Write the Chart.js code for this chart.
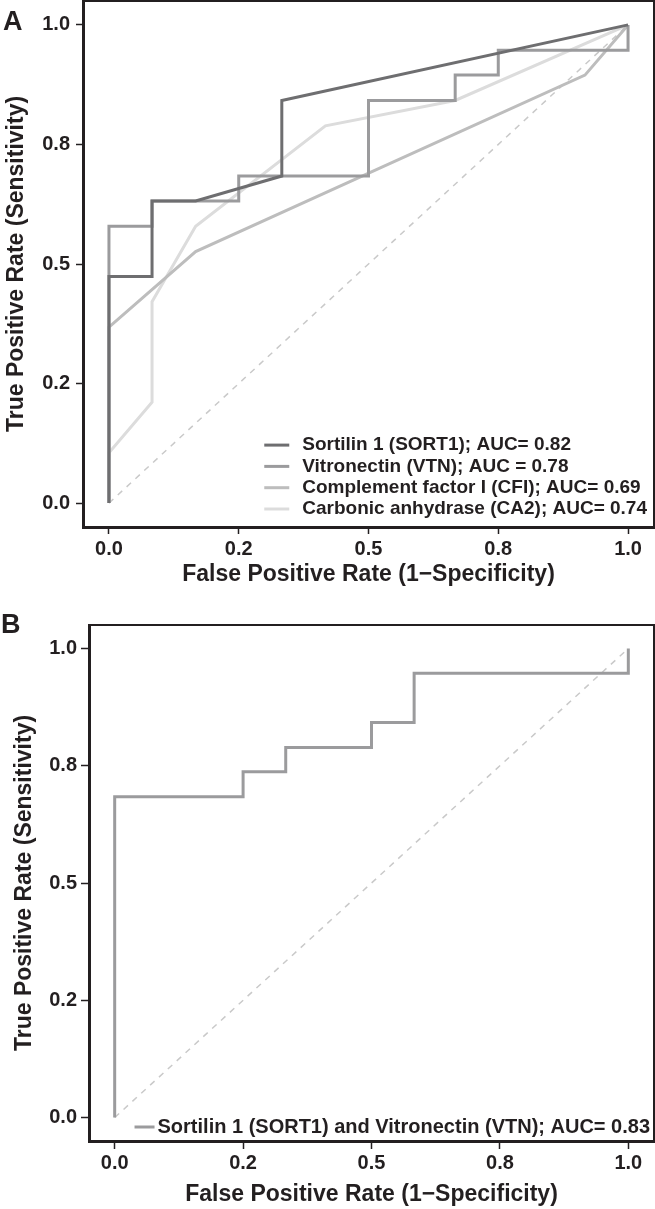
<!DOCTYPE html>
<html>
<head>
<meta charset="utf-8">
<script src="https://cdn.jsdelivr.net/npm/chart.js@4"></script>
<style>
  body { margin: 0; background: #fff; }
  #page { position: relative; width: 655px; height: 1209px; }
  .wrap { position: absolute; left: 0; }
  .panel { position: absolute; font: bold 27px "Liberation Sans", Arial, sans-serif; line-height: 1; color: #231f20; }
</style>
</head>
<body>
<div id="page">
  <div class="wrap" style="top:0"><canvas id="chartA" width="655" height="600"></canvas></div>
  <div class="wrap" style="top:600px"><canvas id="chartB" width="655" height="609"></canvas></div>
  <div class="panel" style="left:3px;top:8px">A</div>
  <div class="panel" style="left:1px;top:611px">B</div>
</div>
<script>
// axis ticks (labels rounded like the original figure)
const tickValues = [0, 0.25, 0.5, 0.75, 1];
const tickLabels = ["0.0", "0.2", "0.5", "0.8", "1.0"];

// panel A - single markers
const sort1Fpr = [0, 0, 0.083, 0.083, 0.167, 0.333, 0.333, 1];
const sort1Tpr = [0, 0.474, 0.474, 0.632, 0.632, 0.684, 0.842, 1];

const vtnFpr = [0, 0, 0.083, 0.083, 0.25, 0.25, 0.5, 0.5, 0.667, 0.667, 0.75, 0.75, 1, 1];
const vtnTpr = [0, 0.579, 0.579, 0.632, 0.632, 0.684, 0.684, 0.842, 0.842, 0.895, 0.895, 0.947, 0.947, 1];

const cfiFpr = [0, 0, 0.167, 0.917, 1];
const cfiTpr = [0, 0.368, 0.526, 0.895, 1];

const ca2Fpr = [0, 0, 0.083, 0.083, 0.167, 0.417, 0.667, 1];
const ca2Tpr = [0, 0.105, 0.211, 0.421, 0.579, 0.789, 0.842, 1];

const labelsA = [
  "Sortilin 1 (SORT1); AUC= 0.82",
  "Vitronectin (VTN); AUC = 0.78",
  "Complement factor I (CFI); AUC= 0.69",
  "Carbonic anhydrase (CA2); AUC= 0.74"
];

// panel B - combined marker
const comboFpr = [0, 0, 0.25, 0.25, 0.333, 0.333, 0.5, 0.5, 0.583, 0.583, 1, 1];
const comboTpr = [0, 0.684, 0.684, 0.737, 0.737, 0.789, 0.789, 0.842, 0.842, 0.947, 0.947, 1];
const labelB = "Sortilin 1 (SORT1) and Vitronectin (VTN); AUC= 0.83";

// chance line
const refFpr = [0, 1];
const refTpr = [0, 1];

const INK = "#231f20";
const FONT = "Liberation Sans";

function pts(xs, ys) {
  return xs.map((x, i) => ({ x: x, y: ys[i] }));
}

function rocLine(label, xs, ys, color) {
  return {
    label: label,
    data: pts(xs, ys),
    showLine: true,
    borderColor: color,
    backgroundColor: color,
    borderWidth: 3,
    pointRadius: 0,
    tension: 0,
    borderJoinStyle: "miter",
    borderCapStyle: "butt"
  };
}

function refLine() {
  return {
    label: "",
    data: pts(refFpr, refTpr),
    showLine: true,
    borderColor: "#c9c9c9",
    borderWidth: 1.5,
    borderDash: [6, 6],
    pointRadius: 0
  };
}

// legend drawn inside the plot, bottom right
const insideLegend = {
  id: "insideLegend",
  afterDatasetsDraw(chart, args, o) {
    const { ctx, chartArea } = chart;
    const items = chart.data.datasets.filter(d => d.label);
    ctx.save();
    ctx.font = "bold " + o.fontSize + "px '" + FONT + "', Arial, sans-serif";
    const maxW = Math.max(...items.map(d => ctx.measureText(d.label).width));
    const textX = chartArea.right - o.right - maxW;
    const x1 = textX - o.gap;
    const x0 = x1 - o.lineLen;
    items.forEach((d, i) => {
      const y = chartArea.bottom - o.bottom - (items.length - 1 - i) * o.rowH;
      ctx.strokeStyle = d.borderColor;
      ctx.lineWidth = 3;
      ctx.beginPath();
      ctx.moveTo(x0, y);
      ctx.lineTo(x1, y);
      ctx.stroke();
      ctx.fillStyle = INK;
      ctx.textAlign = "left";
      ctx.textBaseline = "middle";
      ctx.fillText(d.label, textX, y);
    });
    ctx.restore();
  }
};

// thin top and right frame lines
const frame = {
  id: "frame",
  afterDraw(chart) {
    const { ctx, chartArea } = chart;
    ctx.save();
    ctx.strokeStyle = INK;
    ctx.lineWidth = 2;
    ctx.beginPath();
    ctx.moveTo(chartArea.left, chartArea.top);
    ctx.lineTo(chartArea.right, chartArea.top);
    ctx.lineTo(chartArea.right, chartArea.bottom);
    ctx.stroke();
    ctx.restore();
  }
};

function axes(p) {
  return {
    x: {
      type: "linear",
      min: -0.05,
      max: 1.05,
      afterBuildTicks: s => { s.ticks = tickValues.map(v => ({ value: v })); },
      afterFit: s => { s.height = p.xHeight; s.paddingLeft = 0; s.paddingRight = 0; },
      ticks: {
        autoSkip: false,
        maxRotation: 0,
        padding: p.xPad,
        color: INK,
        font: { family: FONT, size: 20, weight: "bold" },
        callback: (v, i) => tickLabels[i]
      },
      grid: { drawOnChartArea: false, tickLength: p.tickLen, tickWidth: 1.5, tickColor: INK },
      border: { display: true, width: 3, color: INK },
      title: {
        display: true,
        text: "False Positive Rate (1\u2212Specificity)",
        color: INK,
        font: { family: FONT, size: 23, weight: "bold" },
        padding: { top: 0, bottom: p.xTitlePad }
      }
    },
    y: {
      type: "linear",
      min: -0.05,
      max: 1.05,
      afterBuildTicks: s => { s.ticks = tickValues.map(v => ({ value: v })); },
      afterFit: s => { s.width = p.yWidth; s.paddingTop = 0; s.paddingBottom = 0; },
      ticks: {
        autoSkip: false,
        padding: p.yPad,
        color: INK,
        font: { family: FONT, size: 20, weight: "bold" },
        callback: (v, i) => tickLabels[i]
      },
      grid: { drawOnChartArea: false, tickLength: p.tickLen, tickWidth: 1.5, tickColor: INK },
      border: { display: true, width: 3, color: INK },
      title: {
        display: true,
        text: "True Positive Rate (Sensitivity)",
        color: INK,
        font: { family: FONT, size: 23, weight: "bold" },
        padding: { top: p.yTitlePad, bottom: 0 }
      }
    }
  };
}

new Chart(document.getElementById("chartA"), {
  type: "scatter",
  data: {
    datasets: [
      rocLine(labelsA[0], sort1Fpr, sort1Tpr, "#6e6e70"),
      rocLine(labelsA[1], vtnFpr, vtnTpr, "#9b9b9d"),
      rocLine(labelsA[2], cfiFpr, cfiTpr, "#bdbdbd"),
      rocLine(labelsA[3], ca2Fpr, ca2Tpr, "#dcdcdc"),
      refLine()
    ]
  },
  options: {
    responsive: false,
    animation: false,
    layout: { padding: { top: 1, right: 1, bottom: 0, left: 0 } },
    scales: axes({ xHeight: 73, yWidth: 83, xPad: 3, yPad: 6, tickLen: 7, xTitlePad: 12, yTitlePad: 3 }),
    plugins: {
      legend: { display: false },
      tooltip: { enabled: false },
      insideLegend: { fontSize: 19, right: 7, gap: 13, lineLen: 25, bottom: 18, rowH: 21.3 }
    }
  },
  plugins: [insideLegend, frame]
});

new Chart(document.getElementById("chartB"), {
  type: "scatter",
  data: {
    datasets: [
      rocLine(labelB, comboFpr, comboTpr, "#9b9b9d"),
      refLine()
    ]
  },
  options: {
    responsive: false,
    animation: false,
    layout: { padding: { top: 25, right: 1, bottom: 0, left: 0 } },
    scales: axes({ xHeight: 68, yWidth: 89, xPad: 2, yPad: 4, tickLen: 8, xTitlePad: 1, yTitlePad: 11 }),
    plugins: {
      legend: { display: false },
      tooltip: { enabled: false },
      insideLegend: { fontSize: 20, right: 4, gap: 3, lineLen: 20, bottom: 14, rowH: 21 }
    }
  },
  plugins: [insideLegend, frame]
});
</script>
</body>
</html>
